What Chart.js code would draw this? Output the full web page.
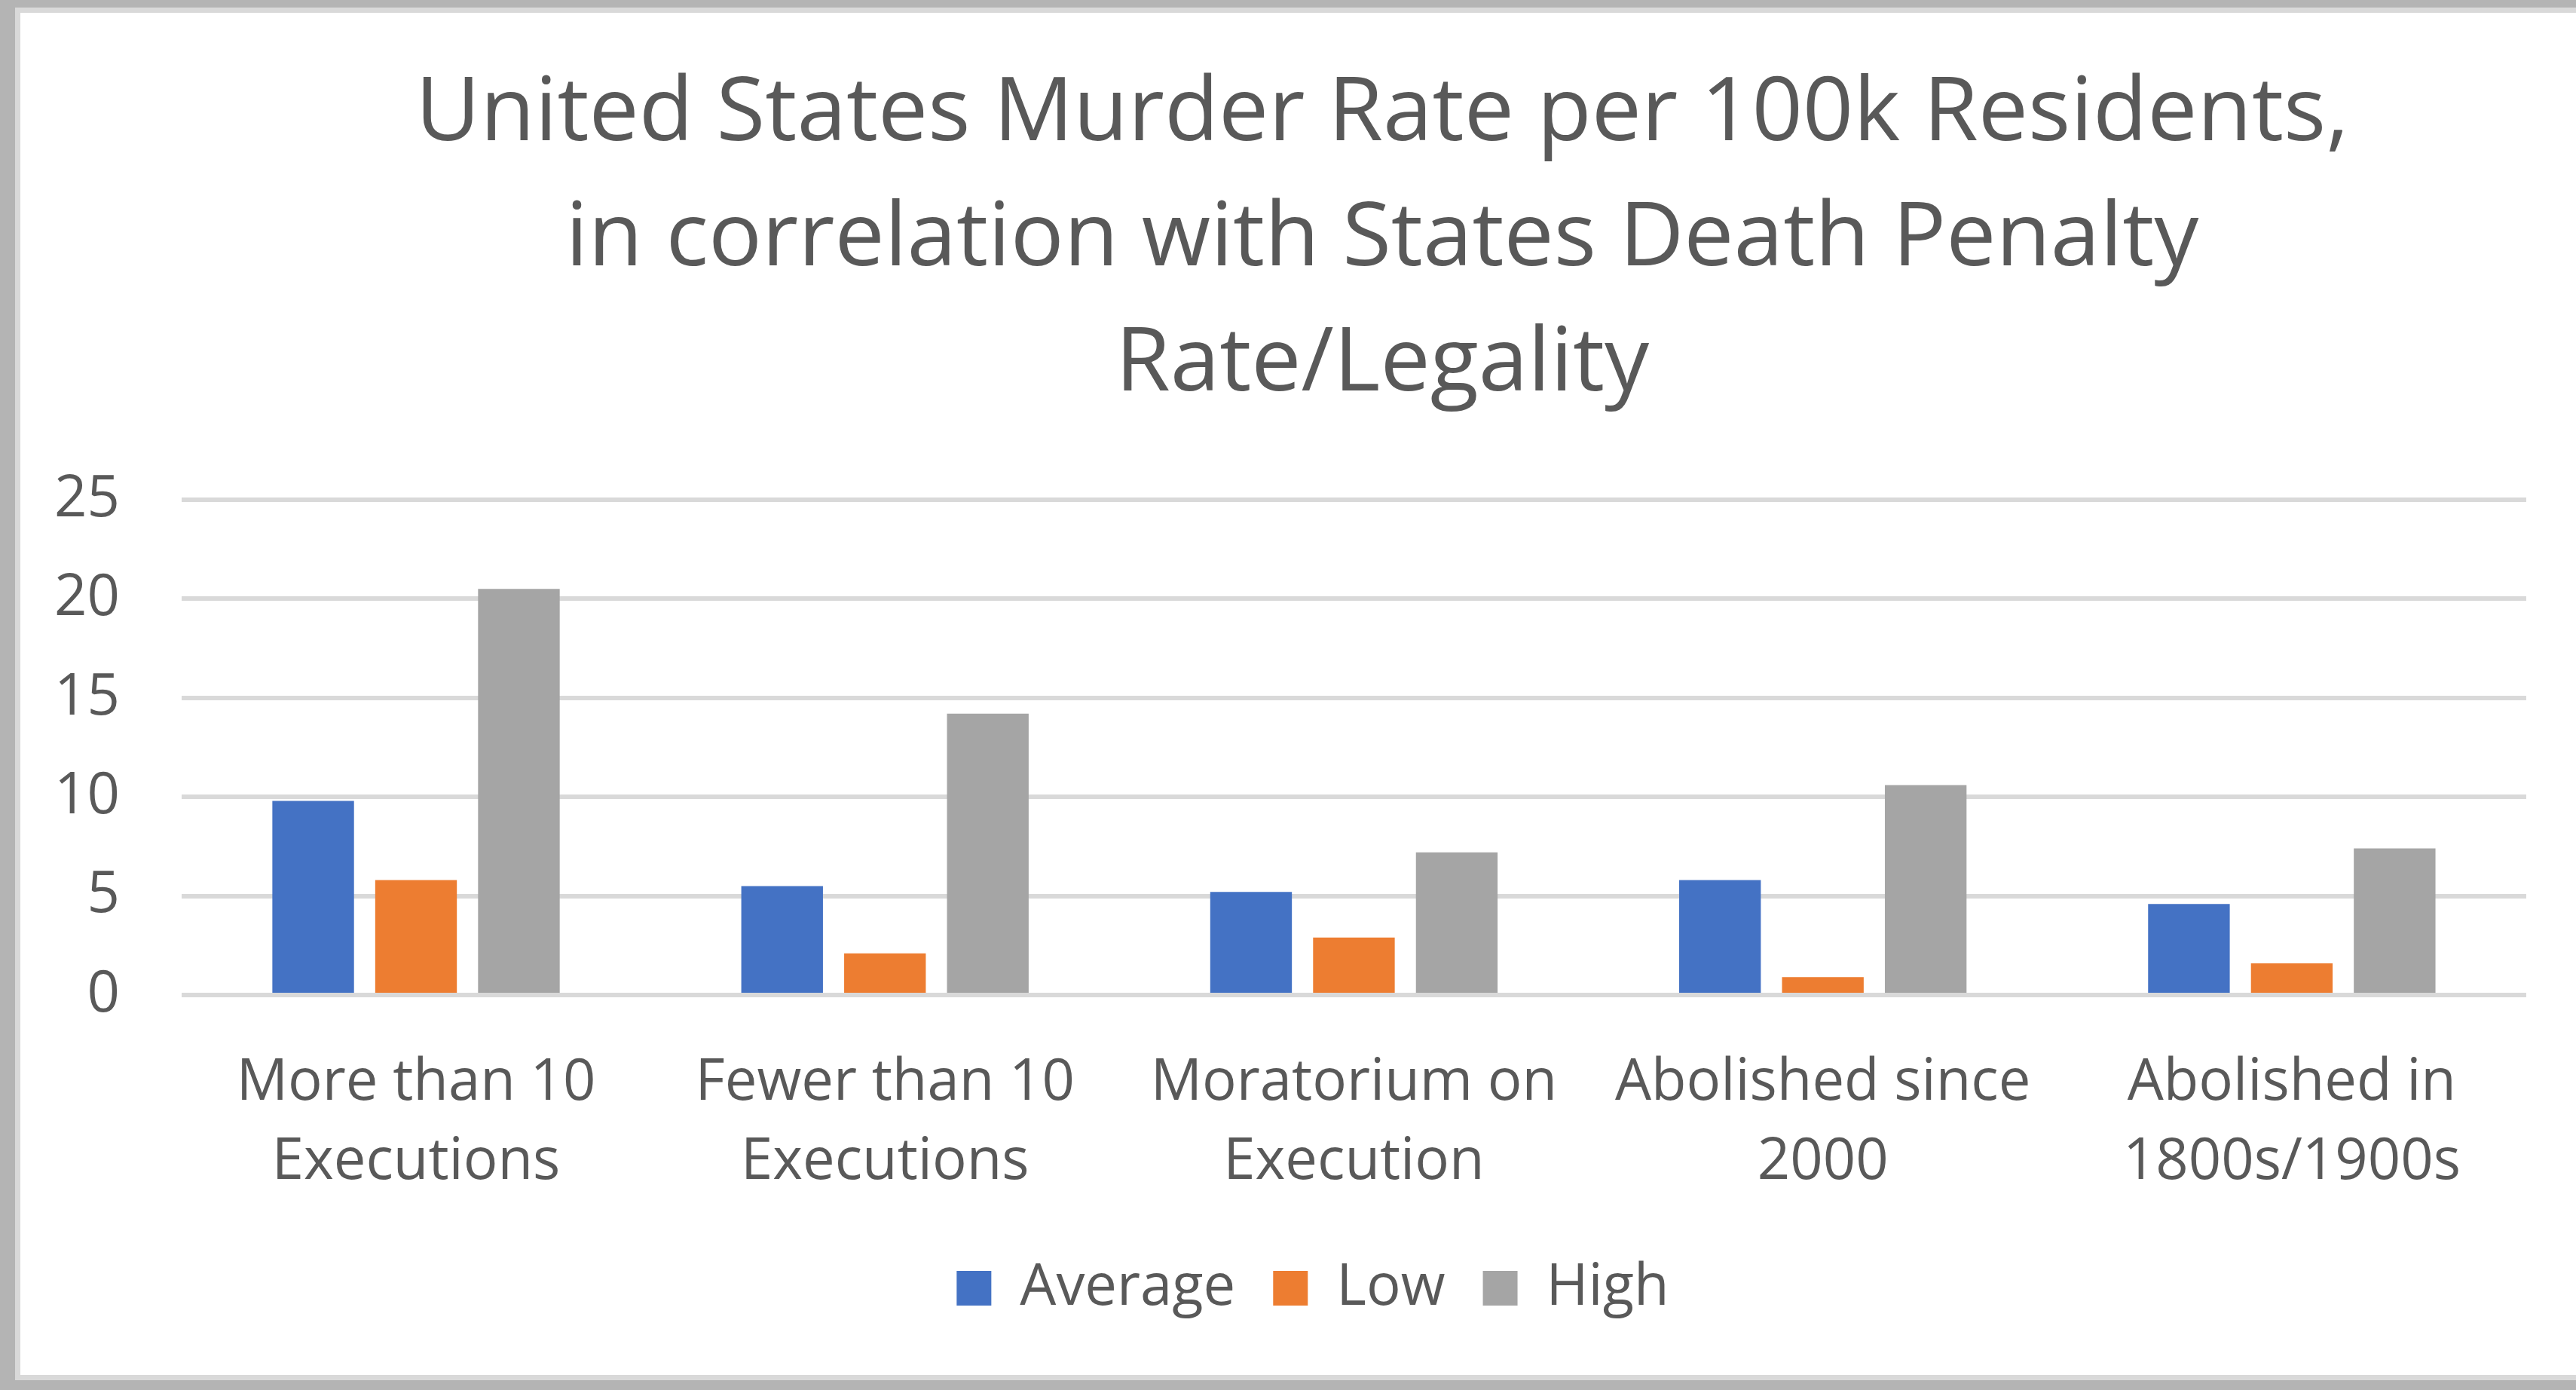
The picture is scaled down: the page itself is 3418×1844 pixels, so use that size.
<!DOCTYPE html>
<html>
<head>
<meta charset="utf-8">
<title>United States Murder Rate per 100k Residents</title>
<script src="https://cdn.jsdelivr.net/npm/chart.js@4.4.1/dist/chart.umd.min.js"></script>
<style>
    html, body {
        margin: 0;
        padding: 0;
        background: #ffffff;
    }
    #wrap {
        position: relative;
        width: 3418px;
        height: 1844px;
        overflow: hidden;
    }
    #chart {
        position: absolute;
        left: 0;
        top: 0;
    }
    /* grey frame round the chart, drawn on top of the canvas */
    #frame {
        position: absolute;
        left: 0;
        top: 0;
        width: 3418px;
        height: 1844px;
        box-sizing: border-box;
        border-style: solid;
        border-color: #b4b4b4;
        border-width: 10px 0 13px 20px;
        pointer-events: none;
    }
    #frame-inner {
        width: 100%;
        height: 100%;
        box-sizing: border-box;
        border-style: solid;
        border-color: #d9d9d9;
        border-width: 7px 0 7px 7px;
    }
</style>
</head>
<body>
<div id="wrap">
    <canvas id="chart" width="3418" height="1844"></canvas>
    <div id="frame"><div id="frame-inner"></div></div>
</div>

<script>
// Chart data
const categories = [
    ['More than 10', 'Executions'],
    ['Fewer than 10', 'Executions'],
    ['Moratorium on', 'Execution'],
    ['Abolished since', '2000'],
    ['Abolished in', '1800s/1900s']
];
const averageValues = [9.8, 5.5, 5.2, 5.8, 4.6];
const lowValues = [5.8, 2.1, 2.9, 0.9, 1.6];
const highValues = [20.5, 14.2, 7.2, 10.6, 7.4];
const titleLines = [
    'United States Murder Rate per 100k Residents,',
    'in correlation with States Death Penalty',
    'Rate/Legality'
];
const yTicks = [0, 5, 10, 15, 20, 25];

const textColor = '#595959';
const gridColor = '#d9d9d9';

Chart.defaults.font.family = "'Open Sans', 'Noto Sans', sans-serif";
Chart.defaults.color = textColor;

// Excel centres title and legend a bit off the plot centre; nudge them
const blockShift = {
    id: 'blockShift',
    afterLayout(chart) {
        if (chart.titleBlock) {
            chart.titleBlock.left += 122;
            chart.titleBlock.right += 122;
        }
        if (chart.legend) {
            chart.legend.left += 30;
            chart.legend.right += 30;
        }
    }
};

function initializeChart() {
    const ctx = document.getElementById('chart').getContext('2d');
    window.murderChart = new Chart(ctx, {
        type: 'bar',
        data: {
            labels: categories,
            datasets: [{
                label: 'Average',
                data: averageValues,
                backgroundColor: '#4472c4'
            }, {
                label: 'Low',
                data: lowValues,
                backgroundColor: '#ed7d31'
            }, {
                label: 'High',
                data: highValues,
                backgroundColor: '#a5a5a5'
            }]
        },
        options: {
            responsive: false,
            animation: false,
            devicePixelRatio: 1,
            categoryPercentage: 0.658,
            barPercentage: 0.794,
            layout: {
                padding: { top: 17, left: 72, right: 66, bottom: 87 }
            },
            plugins: {
                title: {
                    display: true,
                    text: titleLines,
                    color: textColor,
                    font: { size: 118, weight: 'normal', lineHeight: 1.407 },
                    padding: { top: 52, bottom: 96 }
                },
                legend: {
                    position: 'bottom',
                    labels: {
                        color: textColor,
                        font: { size: 76, lineHeight: 1.36 },
                        boxWidth: 46,
                        boxHeight: 46,
                        padding: 50
                    }
                },
                tooltip: { enabled: false }
            },
            scales: {
                x: {
                    grid: { display: false, drawTicks: false },
                    border: { display: false },
                    ticks: {
                        color: textColor,
                        font: { size: 76, lineHeight: 1.38 },
                        padding: 65,
                        maxRotation: 0,
                        autoSkip: false
                    },
                    afterFit(scale) {
                        scale.height = 301;
                    }
                },
                y: {
                    min: 0,
                    max: 25,
                    afterBuildTicks(scale) {
                        scale.ticks = yTicks.map(v => ({ value: v }));
                    },
                    grid: {
                        color: gridColor,
                        lineWidth: 6,
                        drawTicks: true,
                        tickLength: 82,
                        tickColor: 'rgba(0,0,0,0)'
                    },
                    border: { display: false },
                    ticks: {
                        color: textColor,
                        font: { size: 76, lineHeight: 1.36 },
                        padding: 0
                    }
                }
            }
        },
        plugins: [blockShift]
    });
}

initializeChart();
</script>
</body>
</html>
